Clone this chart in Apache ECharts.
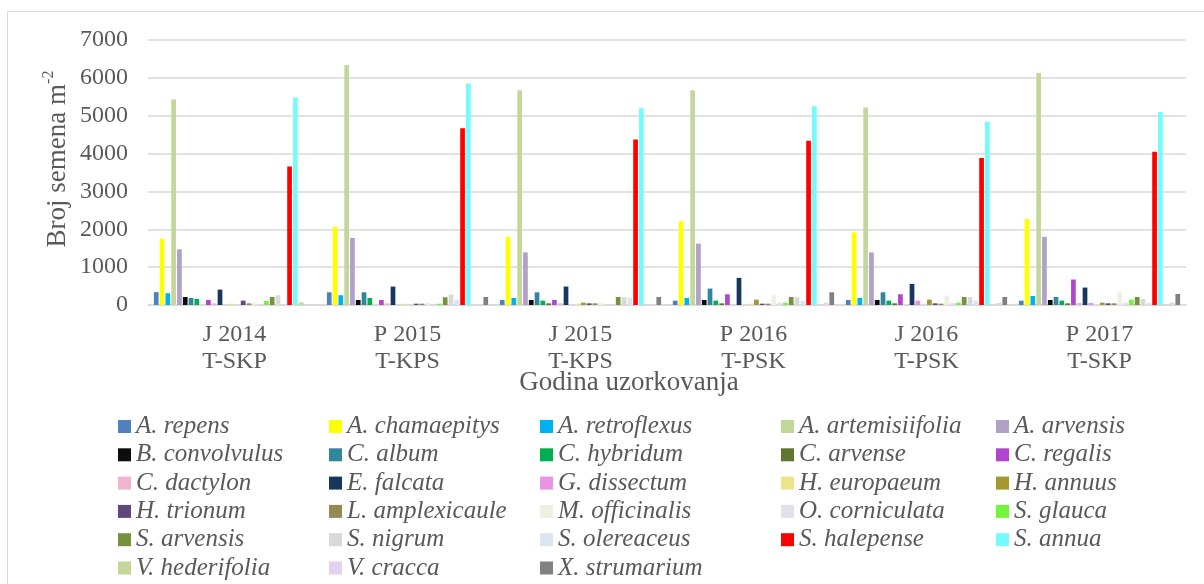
<!DOCTYPE html>
<html>
<head>
<meta charset="utf-8">
<script src="https://cdn.jsdelivr.net/npm/echarts@6/dist/echarts.min.js"></script>
<style>
html,body{margin:0;padding:0;background:#fff;}
#chart{width:1204px;height:584px;}
</style>
</head>
<body>
<div id="chart"></div>
<script>
// Categories (sampling year / rotation)
const categories = ['J 2014\nT-SKP', 'P 2015\nT-KPS', 'J 2015\nT-KPS', 'P 2016\nT-PSK', 'J 2016\nT-PSK', 'P 2017\nT-SKP'];

// Y axis tick values
const yTicks = [0, 1000, 2000, 3000, 4000, 5000, 6000, 7000];

// Species names (legend order)
const speciesNames = [
  'A. repens', 'A. chamaepitys', 'A. retroflexus', 'A. artemisiifolia', 'A. arvensis',
  'B. convolvulus', 'C. album', 'C. hybridum', 'C. arvense', 'C. regalis',
  'C. dactylon', 'E. falcata', 'G. dissectum', 'H. europaeum', 'H. annuus',
  'H. trionum', 'L. amplexicaule', 'M. officinalis', 'O. corniculata', 'S. glauca',
  'S. arvensis', 'S. nigrum', 'S. olereaceus', 'S. halepense', 'S. annua',
  'V. hederifolia', 'V. cracca', 'X. strumarium'
];

// Series colours
const speciesColors = [
  '#4F81BD', '#FFFF00', '#00B0F0', '#C4D79B', '#B1A0C7',
  '#0D0D0D', '#31859C', '#00B050', '#5F7530', '#B245CF',
  '#F0B3D0', '#17375E', '#E993E5', '#EBE48A', '#A3972F',
  '#60497A', '#948A54', '#EEF0E1', '#E4DFEC', '#76F33B',
  '#76923C', '#D9D9D9', '#DCE6F1', '#FF0000', '#75FBFD',
  '#C4D79B', '#E6D0F0', '#808080'
];

// Seed counts per species (one value per category)
const aRepens        = [340, 336, 133, 115, 133, 115];
const aChamaepitys   = [1750, 2070, 1800, 2220, 1920, 2270];
const aRetroflexus   = [310, 257, 186, 186, 186, 239];
const aArtemisiifolia= [5430, 6340, 5670, 5670, 5220, 6130];
const aArvensis      = [1470, 1770, 1390, 1620, 1390, 1800];
const bConvolvulus   = [212, 133, 133, 133, 133, 133];
const cAlbum         = [186, 336, 336, 434, 336, 212];
const cHybridum      = [160, 186, 115, 115, 115, 115];
const cArvense       = [0, 0, 44, 44, 44, 44];
const cRegalis       = [133, 133, 133, 283, 283, 673];
const cDactylon      = [44, 44, 44, 0, 0, 53];
const eFalcata       = [407, 487, 487, 717, 558, 460];
const gDissectum     = [0, 0, 0, 0, 115, 53];
const hEuropaeum     = [35, 35, 35, 35, 0, 0];
const hAnnuus        = [0, 0, 62, 142, 142, 62];
const hTrionum       = [115, 35, 44, 35, 44, 44];
const lAmplexicaule  = [44, 35, 44, 35, 35, 44];
const mOfficinalis   = [62, 62, 62, 257, 248, 336];
const oCorniculata   = [0, 0, 0, 62, 53, 62];
const sGlauca        = [106, 35, 0, 62, 62, 142];
const sArvensis      = [212, 204, 212, 212, 212, 212];
const sNigrum        = [257, 274, 204, 204, 212, 160];
const sOlereaceus    = [0, 133, 186, 106, 115, 62];
const sHalepense     = [3660, 4670, 4370, 4340, 3880, 4050];
const sAnnua         = [5480, 5850, 5200, 5250, 4840, 5100];
const vHederifolia   = [71, 0, 0, 0, 0, 0];
const vCracca        = [0, 0, 0, 62, 53, 62];
const xStrumarium    = [0, 212, 212, 336, 212, 290];

const speciesValues = [
  aRepens, aChamaepitys, aRetroflexus, aArtemisiifolia, aArvensis,
  bConvolvulus, cAlbum, cHybridum, cArvense, cRegalis,
  cDactylon, eFalcata, gDissectum, hEuropaeum, hAnnuus,
  hTrionum, lAmplexicaule, mOfficinalis, oCorniculata, sGlauca,
  sArvensis, sNigrum, sOlereaceus, sHalepense, sAnnua,
  vHederifolia, vCracca, xStrumarium
];

const FONT = '"Liberation Serif", "Times New Roman", serif';
const TXT = '#595959';

const series = speciesNames.map((name, i) => ({
  name: name,
  type: 'bar',
  data: speciesValues[i],
  itemStyle: { color: speciesColors[i] },
  barGap: '23%',
  barCategoryGap: '6.8%',
  animation: false
}));

const legendLefts = [118, 329, 540, 781, 996];
const legends = legendLefts.map((left, c) => ({
  orient: 'vertical',
  left: left,
  top: 414,
  height: 200,
  padding: 0,
  itemGap: 3.3,
  itemWidth: 13,
  itemHeight: 13,
  icon: 'rect',
  selectedMode: false,
  data: speciesNames.filter((n, i) => i % 5 === c),
  textStyle: { fontFamily: FONT, fontStyle: 'italic', fontSize: 25, lineHeight: 25, color: TXT }
}));

const chart = echarts.init(document.getElementById('chart'), null, { renderer: 'canvas' });
chart.setOption({
  animation: false,
  backgroundColor: '#ffffff',
  grid: { left: 148, right: 18, top: 40, bottom: 279 },
  legend: legends,
  xAxis: {
    type: 'category',
    data: categories,
    axisLine: { lineStyle: { color: '#D9D9D9', width: 1.5 } },
    axisTick: { show: false },
    axisLabel: { fontFamily: FONT, fontSize: 24, lineHeight: 27, color: TXT, margin: 16 }
  },
  yAxis: {
    type: 'value',
    min: yTicks[0],
    max: yTicks[yTicks.length - 1],
    interval: yTicks[1] - yTicks[0],
    axisLine: { show: false },
    axisTick: { show: false },
    splitLine: { lineStyle: { color: '#D9D9D9', width: 1.5 } },
    axisLabel: { fontFamily: FONT, fontSize: 24, color: TXT, margin: 20, formatter: (v) => String(v) }
  },
  graphic: [
    {
      type: 'rect',
      shape: { x: 7.5, y: 11.5, width: 1300, height: 700 },
      style: { fill: 'none', stroke: '#D9D9D9', lineWidth: 1 },
      silent: true,
      z: -10
    },
    {
      type: 'text',
      x: 629,
      y: 383,
      style: {
        text: 'Godina uzorkovanja',
        align: 'center',
        verticalAlign: 'middle',
        fontFamily: FONT,
        fontSize: 27,
        fill: TXT
      },
      silent: true
    },
    {
      type: 'text',
      x: 56,
      y: 159,
      rotation: Math.PI / 2,
      style: {
        text: '{a|Broj semena m}{s|-2}',
        align: 'center',
        verticalAlign: 'middle',
        rich: {
          a: { fontFamily: FONT, fontSize: 27, fill: TXT, color: TXT, lineHeight: 30, verticalAlign: 'bottom' },
          s: { fontFamily: FONT, fontSize: 16, fill: TXT, color: TXT, lineHeight: 30, verticalAlign: 'top', padding: [0, 0, 10, 0] }
        }
      },
      silent: true
    }
  ],
  series: series
});
</script>
</body>
</html>
